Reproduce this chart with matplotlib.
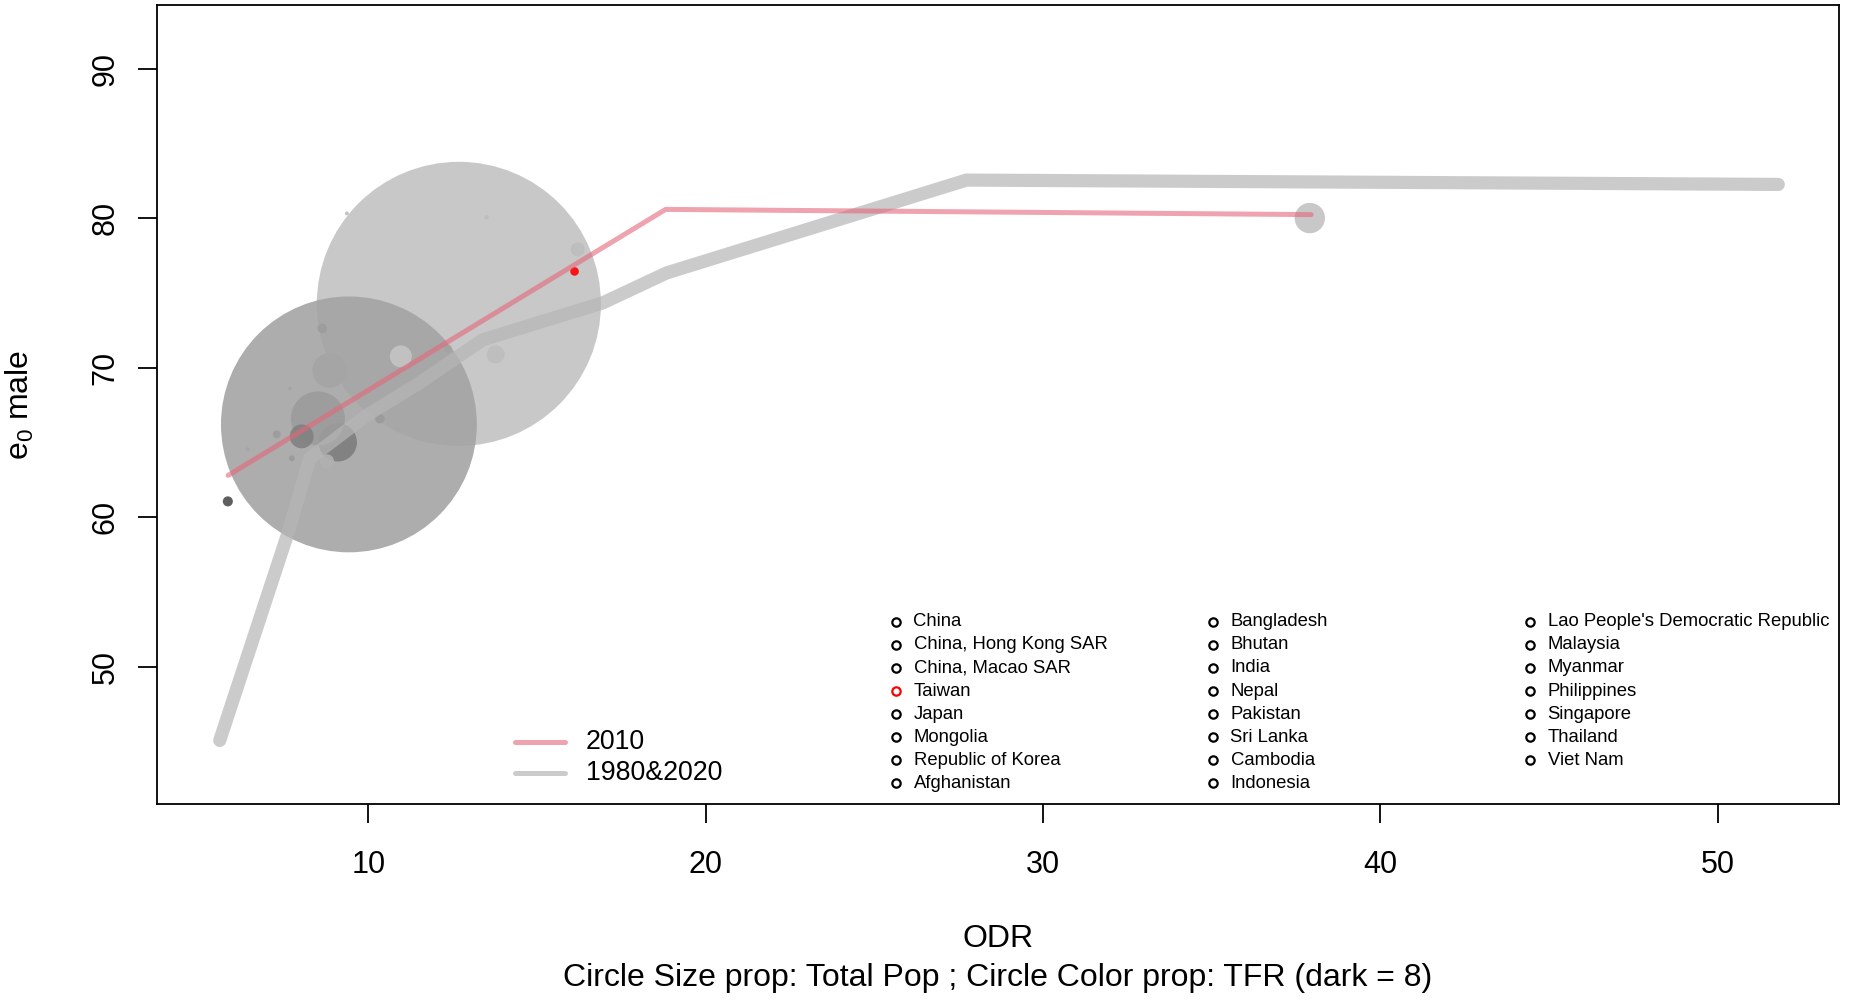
import matplotlib.pyplot as plt
from matplotlib.lines import Line2D

plt.rcParams['font.family'] = ['Liberation Sans', 'DejaVu Sans']
plt.rcParams['mathtext.fontset'] = 'custom'
plt.rcParams['mathtext.rm'] = 'Liberation Sans'

# legend order of countries (also the drawing order of the bubbles)
countries = [
    'China', 'China, Hong Kong SAR', 'China, Macao SAR', 'Taiwan', 'Japan',
    'Mongolia', 'Republic of Korea', 'Afghanistan', 'Bangladesh', 'Bhutan',
    'India', 'Nepal', 'Pakistan', 'Sri Lanka', 'Cambodia', 'Indonesia',
    "Lao People's Democratic Republic", 'Malaysia', 'Myanmar', 'Philippines',
    'Singapore', 'Thailand', 'Viet Nam',
]
# 2010 bubbles, nan = not drawn
odr_2010 = [12.68, float('nan'), 9.36, 16.11, 37.91, 6.42, 16.20, 5.83, 8.85, 7.67,
            9.42, 10.34, 9.09, 12.35, 7.28, 8.50, 7.73, 8.63, 8.77, 8.02,
            13.50, 13.77, 10.96]
e0_2010 = [74.28, float('nan'), 80.33, 76.45, 80.02, 64.55, 77.93, 61.07, 69.83, 68.63,
           66.22, 66.60, 65.02, 71.30, 65.55, 66.62, 63.95, 72.64, 63.75, 65.42,
           80.07, 70.90, 70.77]
pop_2010 = [1340, 7, 0.5, 23, 127, 2.7, 49, 30, 148, 0.7,
            1205, 27, 165, 20, 20, 240, 10, 28, 49, 96,
            3, 68, 87]  # millions
tfr_2010 = [1.73, 1.0, 1.87, 1.1, 1.73, 2.2, 1.85, 5.0, 2.3, 2.3,
            2.57, 2.85, 3.65, 2.6, 2.8, 2.8, 2.85, 2.8, 2.2, 3.55,
            1.85, 1.85, 1.68]
highlight = 'Taiwan'

line_2010_x = [5.84, 18.81, 37.95]
line_2010_y = [62.81, 80.60, 80.25]
line_80_20_x = [5.59, 7.61, 8.26, 9.95, 11.52, 13.39, 16.95, 18.84, 27.73, 51.80]
line_80_20_y = [45.08, 58.93, 63.95, 66.83, 69.00, 71.88, 74.35, 76.35, 82.56, 82.27]

W, H = 1853, 1000
fig = plt.figure(figsize=(W / 100, H / 100), dpi=100)
L, R, T, B = 157, 1839, 5, 804
ax = fig.add_axes([L / W, 1 - B / H, (R - L) / W, (B - T) / H])


def afrac(px, py):
    return (px - L) / (R - L), (B - py) / (B - T)


# bubbles: radius grows with population, grey level with TFR (dark = 8)
a = 0.9
for i, name in enumerate(countries):
    if odr_2010[i] != odr_2010[i]:
        continue
    r_pt = (1.9 + 0.1046 * pop_2010[i]) * 0.72
    if name == highlight:
        col = 'red'
    else:
        g = 1 - tfr_2010[i] / 8
        g = max((g - (1 - a)) / a, 0)
        col = (g, g, g)
    ax.scatter(odr_2010[i], e0_2010[i], s=(2 * r_pt) ** 2, color=col,
               edgecolors='none', alpha=a, zorder=2)

pink = '#E4667A'
grey = '#B6B6B6'
ax.plot(line_80_20_x, line_80_20_y, color=grey, alpha=0.7, lw=9.5,
        solid_capstyle='round', solid_joinstyle='round', zorder=3)
ax.plot(line_2010_x, line_2010_y, color=pink, alpha=0.6, lw=3.6,
        solid_capstyle='round', solid_joinstyle='round', zorder=4)

ax.set_xlim(3.73, 53.6)
ax.set_ylim(40.83, 94.27)
ax.set_xticks([10, 20, 30, 40, 50])
ax.set_yticks([50, 60, 70, 80, 90])
ax.tick_params(length=13.7, width=1.3, labelsize=22, direction='out')
ax.tick_params(axis='x', pad=19.5)
ax.tick_params(axis='y', pad=12.5, labelrotation=90)
for lbl in ax.get_yticklabels():
    lbl.set_va('center')
for sp in ax.spines.values():
    sp.set_linewidth(1.3)

fig.text(0.5 * (L + R) / W, 1 - 939 / H, 'ODR', ha='center', va='center', fontsize=23)
fig.text(0.5 * (L + R) / W, 1 - 978 / H,
         'Circle Size prop: Total Pop ; Circle Color prop: TFR (dark = 8)',
         ha='center', va='center', fontsize=23)
fig.text(20 / W, 1 - 405 / H, r'$\mathregular{e_0}$ male', rotation=90,
         ha='center', va='center', fontsize=23)

# line legend
for (py, col, al, lab) in [(742, pink, 0.6, '2010'), (773, grey, 0.7, '1980&2020')]:
    x0, y0 = afrac(515, py)
    x1, _ = afrac(565, py)
    ax.add_line(Line2D([x0, x1], [y0, y0], transform=ax.transAxes, color=col,
                       alpha=al, lw=3.6, solid_capstyle='round', clip_on=False))
    tx, _ = afrac(586, py)
    ax.text(tx, y0, lab, transform=ax.transAxes, fontsize=19.3, va='center', ha='left')

# country legend, 3 columns of 8
col_px = [896, 1213, 1530]
for k, name in enumerate(countries):
    c, rw = divmod(k, 8)
    py = 621.7 + rw * 23.1
    mx, my = afrac(col_px[c], py)
    tx, _ = afrac(col_px[c] + 17.5, py)
    ax.plot([mx], [my], transform=ax.transAxes, marker='o', ms=6, mfc='none',
            mec='red' if name == highlight else 'black', mew=1.6, ls='none',
            clip_on=False)
    ax.text(tx, my, name, transform=ax.transAxes, fontsize=13.3, va='center', ha='left')

fig.savefig('out.png', dpi=100)
